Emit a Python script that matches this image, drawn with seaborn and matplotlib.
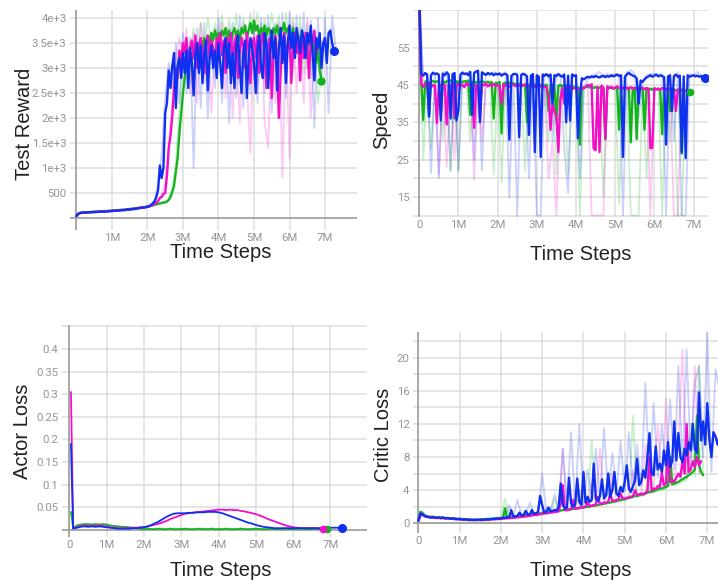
import numpy as np
import matplotlib
matplotlib.use("Agg")
import matplotlib.pyplot as plt
import seaborn as sns

# ---------------- data ----------------
# colours of the three runs
run_colors = {"green": "#14b41e", "pink": "#f20fc8", "blue": "#1030f0"}

# Test Reward, smoothed, 0.05M steps
reward_blue = [40, 85, 100, 105, 110, 105, 115, 112, 118, 115,
               120, 118, 125, 122, 128, 130, 126, 135, 132, 140,
               138, 145, 142, 150, 148, 155, 160, 155, 165, 170,
               168, 175, 180, 178, 190, 195, 200, 210, 205, 215,
               225, 235, 260, 290, 330, 420, 560, 1050, 800, 1000,
               2100, 2300, 2950, 2600, 3050, 3300, 2200, 3050, 3200, 2800,
               3300, 2900, 3350, 2600, 3400, 3100, 2450, 3300, 3500, 2900,
               3450, 2700, 3300, 3550, 2550, 3200, 3450, 3000, 3350, 2800,
               3500, 3100, 2600, 3400, 3600, 3000, 3500, 2700, 3300, 2600,
               3450, 3650, 3000, 2500, 3300, 3550, 2400, 3200, 3600, 3400,
               3100, 2500, 3400, 3650, 3000, 2800, 3700, 3500, 2600, 3300,
               3750, 3200, 3600, 2550, 3400, 3800, 3100, 3650, 2700, 3500,
               3850, 3400, 3700, 3200, 3800, 3550, 3300, 3750, 3600, 3200,
               3700, 3500, 3850, 3300, 2750, 3600, 3400, 3700, 3000, 3500,
               3600, 3100, 3700, 3750, 3500, 3350]
reward_pink = [35, 80, 95, 110, 105, 112, 108, 118, 115, 120,
               118, 125, 122, 128, 126, 132, 130, 138, 135, 142,
               140, 148, 145, 152, 150, 158, 162, 158, 168, 172,
               170, 178, 182, 185, 192, 198, 205, 210, 215, 220,
               225, 230, 245, 260, 280, 300, 340, 400, 420, 480,
               500, 850, 1400, 1650, 2050, 2600, 3000, 2800, 3350, 3100,
               3500, 3300, 3600, 2950, 3400, 3550, 3200, 3650, 3000, 3450,
               3600, 3350, 2900, 3500, 3650, 3200, 3550, 3400, 3050, 3600,
               3450, 3700, 3250, 3550, 2900, 3600, 3400, 3700, 3100, 3500,
               3650, 2800, 3300, 3600, 3450, 3000, 3700, 3350, 2700, 3500,
               3600, 3200, 3650, 2900, 3500, 3700, 3300, 2600, 3450, 3600,
               2400, 3300, 3650, 3100, 2000, 2900, 3500, 3700, 3200, 3450,
               3650, 2700, 3400, 3700, 3300, 3600, 2750, 3550, 3200, 3700,
               3450, 2800, 3600, 3500, 3750, 3300, 3450]
reward_green = [45, 85, 100, 102, 108, 112, 110, 116, 120, 118,
                124, 122, 128, 130, 127, 134, 138, 136, 142, 145,
                143, 150, 148, 155, 158, 162, 160, 168, 172, 175,
                178, 182, 188, 192, 196, 200, 206, 212, 218, 222,
                225, 235, 245, 250, 265, 270, 280, 290, 300, 310,
                310, 330, 360, 420, 520, 650, 920, 1200, 1700, 2100,
                2500, 2800, 3050, 2900, 3300, 3150, 3400, 3250, 3500, 3350,
                3550, 3400, 3600, 3450, 3650, 3500, 3700, 3550, 3750, 3600,
                3700, 3550, 3750, 3650, 3800, 3600, 3750, 3500, 3700, 3800,
                3650, 3750, 3550, 3800, 3700, 3850, 3600, 3750, 3900, 3700,
                3950, 3750, 3850, 3600, 3800, 3700, 3850, 3650, 3800, 3750,
                3550, 3800, 3700, 3850, 3650, 3800, 3750, 3900, 3700, 3800,
                3750, 3600, 3800, 3500, 3700, 3650, 3400, 3750, 3550, 3200,
                3600, 3450, 3700, 3300, 3550, 3100, 3400, 2950, 2750]
# Test Reward, raw (faded), 0.1M steps
reward_blue_raw = [40, 100, 110, 125, 120, 130, 125, 135, 140, 145,
                   140, 150, 155, 165, 160, 175, 180, 195, 200, 215,
                   230, 280, 350, 650, 1300, 2400, 3100, 2600, 3500, 2300,
                   3700, 2500, 3600, 1000, 3800, 2200, 3900, 2000, 3700, 2600,
                   4000, 2300, 3800, 1900, 3900, 2400, 4050, 2200, 3700, 2500,
                   3900, 2300, 4000, 2500, 4050, 2100, 3900, 2700, 4100, 2400,
                   4100, 2900, 4050, 2800, 4100, 3000, 3950, 1800, 4000, 2700,
                   4000, 2100, 4050, 3400]
reward_pink_raw = [35, 95, 110, 120, 118, 128, 126, 135, 140, 142,
                   142, 150, 158, 160, 168, 172, 182, 190, 205, 215,
                   228, 250, 300, 350, 450, 700, 1500, 2300, 3200, 3600,
                   3200, 3800, 2500, 3700, 2300, 3900, 2700, 3600, 2100, 3800,
                   3500, 3900, 2400, 3800, 2000, 3700, 1900, 3900, 2600, 1300,
                   3800, 2500, 3900, 1900, 1400, 3800, 2300, 3900, 800, 3700,
                   1200, 3900, 2500, 3800, 2300, 4000, 2000, 3700, 3300]
reward_green_raw = [45, 100, 110, 118, 122, 130, 135, 140, 145, 148,
                    145, 155, 160, 165, 172, 178, 190, 200, 210, 220,
                    230, 250, 270, 290, 310, 330, 380, 600, 1100, 2200,
                    3000, 3500, 3200, 3800, 3300, 3900, 3400, 4000, 3500, 3900,
                    3600, 4050, 3300, 4000, 3500, 4100, 3400, 4000, 3600, 4100,
                    3700, 4100, 3400, 4000, 3500, 4100, 3600, 4050, 3300, 4100,
                    3500, 4000, 3200, 4050, 2900, 3900, 2800, 3700, 2300, 2900]

# Speed, smoothed, 0.05M steps
speed_blue = [70, 48, 47.5, 48.2, 47.8, 36.5, 47.6, 48.3, 47.9, 48.1,
              47.7, 35.5, 48.0, 47.6, 48.4, 47.8, 36.0, 47.9, 48.2, 35.5,
              38.3, 47.8, 48.3, 47.9, 48.1, 47.6, 48.5, 37.0, 48.2, 48.6,
              48.8, 35.0, 48.4, 48.0, 47.7, 48.2, 47.9, 48.1, 47.6, 48.0,
              47.8, 48.1, 47.5, 47.9, 48.0, 47.6, 30.3, 47.4, 47.9, 48.0,
              47.7, 31.0, 47.6, 48.0, 47.8, 47.3, 31.6, 47.5, 47.9, 27.0,
              47.6, 47.2, 25.7, 47.8, 47.5, 47.9, 47.3, 47.8, 40.0, 47.6,
              47.4, 47.9, 47.5, 47.2, 47.8, 35.0, 47.5, 35.5, 47.8, 47.4,
              47.6, 30.7, 42.0, 46.8, 46.5, 46.9, 47.2, 47.0, 47.3, 47.1,
              47.4, 47.2, 47.0, 47.3, 47.5, 47.1, 47.4, 47.2, 47.6, 47.3,
              47.5, 47.8, 47.4, 47.6, 25.7, 47.2, 47.9, 48.2, 47.8, 47.5,
              47.3, 46.8, 40.0, 46.2, 45.8, 46.5, 47.0, 47.3, 47.6, 47.2,
              47.5, 47.8, 47.3, 47.6, 47.4, 47.1, 29.0, 47.3, 47.6, 38.0,
              47.4, 47.8, 47.2, 47.5, 27.0, 47.3, 25.4, 47.6, 47.2, 47.4,
              47.6, 47.3, 47.5, 47.2, 47.4, 47.1, 47.0]
speed_pink = [66, 45.5, 44.5, 45.2, 44.8, 45.6, 44.3, 45.0, 44.7, 34.8,
              45.2, 44.6, 45.3, 44.9, 34.4, 45.1, 44.5, 45.4, 36.5, 44.8,
              45.3, 44.7, 45.1, 44.4, 45.5, 44.9, 45.2, 44.6, 33.5, 45.0,
              44.7, 36.0, 45.2, 44.9, 45.4, 44.6, 45.1, 44.8, 45.3, 44.7,
              45.0, 44.6, 40.0, 45.2, 44.8, 45.3, 44.5, 44.9, 45.1, 44.7,
              44.8, 45.0, 44.6, 44.9, 45.1, 44.5, 44.8, 44.6, 44.9, 44.4,
              44.7, 44.5, 44.8, 44.3, 44.6, 44.4, 42.0, 33.0, 40.0, 38.0,
              36.5, 27.0, 41.0, 44.2, 40.0, 44.5, 44.1, 44.4, 43.9, 44.2,
              44.0, 43.8, 44.1, 43.9, 44.2, 44.5, 45.0, 44.8, 45.2, 28.0,
              27.5, 44.5, 27.0, 44.8, 44.3, 30.6, 44.6, 44.2, 44.5, 44.0,
              44.3, 44.6, 44.1, 44.4, 44.0, 44.5, 44.2, 43.8, 44.4, 44.1,
              44.3, 43.9, 44.2, 44.0, 44.3, 43.8, 44.1, 44.0, 28.0, 28.2,
              44.1, 43.8, 44.0, 43.7, 44.2, 43.9, 44.1, 43.6, 44.0, 43.8,
              43.9, 38.0, 43.7, 44.0, 43.6, 43.8, 43.4, 43.3]
speed_green = [68, 46.0, 35.6, 45.8, 46.2, 36.6, 45.9, 46.1, 45.7, 46.0,
               45.8, 37.0, 46.1, 45.6, 46.0, 45.9, 46.2, 45.7, 36.0, 46.0,
               45.8, 46.1, 45.7, 46.0, 45.9, 46.2, 37.0, 45.8, 46.0, 45.6,
               45.9, 45.7, 46.0, 45.8, 45.6, 45.9, 45.5, 45.8, 36.0, 45.6,
               45.5, 45.8, 32.0, 45.4, 45.7, 45.3, 45.6, 45.2, 45.5, 45.1,
               45.4, 45.0, 45.3, 44.9, 45.2, 35.0, 45.0, 45.3, 44.8, 45.1,
               44.9, 45.2, 44.8, 45.0, 44.7, 45.1, 38.0, 44.9, 45.0, 44.6,
               35.5, 44.8, 45.0, 44.7, 44.9, 44.6, 44.8, 44.5, 44.7, 44.4,
               44.6, 44.3, 29.0, 44.5, 44.2, 44.4, 44.6, 44.3, 44.5, 44.2,
               44.4, 44.1, 44.3, 44.5, 44.2, 30.5, 44.4, 44.1, 44.3, 44.0,
               44.2, 44.5, 33.0, 44.3, 44.0, 44.4, 44.1, 44.3, 29.6, 44.2,
               44.0, 30.5, 44.3, 43.9, 44.1, 33.0, 44.2, 43.8, 44.0, 43.7,
               44.1, 43.8, 44.0, 43.6, 31.8, 43.9, 43.7, 44.0, 38.0, 43.6,
               43.8, 43.5, 43.7, 43.4, 26.6, 43.6, 43.3, 43.5, 43.2]
# Speed, raw (faded), 0.1M steps
speed_blue_raw = [70, 48, 47.5, 21.4, 48, 20, 48.5, 47.8, 22, 48,
                  22, 48.5, 48, 48.8, 25, 49, 22, 48, 47.5, 48.5,
                  48, 47.5, 48.5, 14.7, 48, 9.8, 48, 47.5, 20, 48,
                  10, 10, 48, 47.5, 30, 48, 47.8, 28, 16, 48,
                  47.5, 20, 44, 46.5, 47.5, 47.8, 48.5, 47, 48, 47.5,
                  48, 47.5, 10, 48.5, 49, 48, 36, 46, 47.5, 48,
                  48, 47.5, 48, 10, 47.8, 30, 48.5, 10, 10, 48,
                  47.5, 48.5, 47.5, 47]
speed_pink_raw = [66, 45.5, 44.5, 45, 44.8, 21, 45, 23, 45.2, 25,
                  45, 44.6, 45.3, 44.8, 19.6, 45, 30, 45.2, 44.6, 45,
                  44.8, 35, 45.1, 44.6, 45, 44.7, 45, 44.5, 44.8, 44.5,
                  44.7, 44.4, 44.6, 20, 30, 10, 40, 44.2, 44.5, 44.1,
                  44, 43.8, 44.2, 45, 10, 10, 10, 10, 44.6, 44.2,
                  44.4, 44.1, 44.5, 44, 44.3, 44.2, 43.9, 44.2, 44, 10,
                  44, 43.8, 44.1, 43.7, 44, 10, 10, 43.6, 43.4]
speed_green_raw = [68, 24.9, 46, 28, 46, 45.8, 30, 46, 22, 45.8,
                   22, 46, 45.8, 30, 46, 45.8, 46, 45.6, 45.9, 21,
                   45.6, 19, 45.5, 45.3, 45.5, 45.2, 45.4, 22, 45, 45.2,
                   45, 44.8, 45, 30, 44.8, 21, 44.9, 44.6, 21, 44.5,
                   44.6, 10, 44.4, 44.5, 44.3, 44.5, 44.2, 15, 44.3, 44.1,
                   44.3, 13, 44.4, 44.1, 10, 10, 10, 44, 20, 43.9,
                   44, 43.8, 10, 43.9, 30, 43.7, 10, 10, 43.5, 43.2]

# Actor Loss, 0.1M steps (first value is the initial spike)
actor_blue = [0.19, 0.003, 0.005, 0.007, 0.008, 0.007, 0.008, 0.007, 0.008, 0.007,
              0.006, 0.005, 0.004, 0.003, 0.003, 0.003, 0.003, 0.004, 0.004, 0.005,
              0.006, 0.008, 0.011, 0.015, 0.019, 0.024, 0.029, 0.033, 0.036, 0.037,
              0.037, 0.037, 0.038, 0.038, 0.039, 0.039, 0.039, 0.040, 0.040, 0.040,
              0.039, 0.037, 0.034, 0.031, 0.028, 0.025, 0.022, 0.019, 0.016, 0.014,
              0.011, 0.009, 0.007, 0.006, 0.005, 0.004, 0.004, 0.004, 0.004, 0.004,
              0.004, 0.004, 0.004, 0.004, 0.004, 0.004, 0.004, 0.004, 0.004, 0.004,
              0.005, 0.005, 0.005, 0.005]
actor_pink = [0.305, 0.004, 0.006, 0.009, 0.010, 0.009, 0.010, 0.009, 0.010, 0.009,
              0.008, 0.006, 0.005, 0.004, 0.004, 0.004, 0.004, 0.005, 0.005, 0.006,
              0.006, 0.008, 0.010, 0.012, 0.014, 0.017, 0.020, 0.024, 0.027, 0.030,
              0.033, 0.036, 0.037, 0.038, 0.039, 0.040, 0.041, 0.042, 0.043, 0.044,
              0.045, 0.045, 0.044, 0.045, 0.044, 0.044, 0.042, 0.041, 0.039, 0.037,
              0.035, 0.032, 0.029, 0.025, 0.022, 0.019, 0.016, 0.013, 0.010, 0.008,
              0.006, 0.005, 0.004, 0.004, 0.004, 0.004, 0.004, 0.003, 0.003]
actor_green = [0.04, 0.004, 0.010, 0.012, 0.013, 0.013, 0.012, 0.013, 0.012, 0.013,
               0.012, 0.010, 0.009, 0.008, 0.007, 0.007, 0.006, 0.005, 0.004, 0.003,
               0.002, 0.003, 0.002, 0.002, 0.003, 0.002, 0.002, 0.003, 0.002, 0.002,
               0.002, 0.003, 0.002, 0.002, 0.002, 0.003, 0.002, 0.002, 0.003, 0.002,
               0.002, 0.002, 0.003, 0.002, 0.002, 0.002, 0.003, 0.002, 0.002, 0.002,
               0.003, 0.002, 0.002, 0.002, 0.003, 0.002, 0.002, 0.002, 0.003, 0.002,
               0.002, 0.002, 0.003, 0.002, 0.002, 0.002, 0.003, 0.002, 0.002, 0.002]

# Critic Loss, smoothed, 0.05M steps
critic_blue = [0.3, 1.2, 1.1, 0.9, 0.8, 0.75, 0.7, 0.75, 0.7, 0.65,
               0.7, 0.65, 0.7, 0.6, 0.65, 0.6, 0.55, 0.6, 0.55, 0.5,
               0.55, 0.5, 0.45, 0.5, 0.45, 0.4, 0.45, 0.4, 0.4, 0.45,
               0.4, 0.45, 0.4, 0.5, 0.45, 0.5, 0.55, 0.5, 0.6, 0.55,
               0.6, 0.7, 0.65, 0.75, 0.7, 1.6, 0.8, 0.85, 0.9, 1.3,
               0.95, 1.0, 1.5, 1.05, 1.1, 1.6, 1.15, 1.2, 1.4, 3.3,
               2.2, 1.3, 1.4, 1.9, 1.45, 1.5, 1.6, 1.55, 2.0, 4.8,
               2.2, 1.8, 1.9, 5.5, 2.4, 2.0, 2.3, 5.4, 2.6, 2.2,
               6.2, 2.5, 3.2, 2.6, 2.8, 7.2, 3.0, 2.7, 3.3, 5.3,
               3.0, 3.4, 6.0, 3.2, 4.0, 6.2, 3.6, 3.3, 4.4, 3.8,
               5.0, 7.0, 4.2, 3.8, 4.5, 5.2, 7.8, 4.6, 5.0, 6.4,
               5.5, 8.0, 10.9, 6.0, 5.8, 9.3, 6.5, 7.2, 6.2, 8.8,
               7.0, 9.8, 6.8, 7.5, 12.3, 7.6, 10.9, 8.0, 7.4, 9.0,
               8.2, 9.8, 8.8, 12.0, 9.0, 8.5, 15.8, 10.0, 12.3, 9.5,
               14.5, 10.2, 8.0, 11.0, 10.5, 9.5, 10.5]
critic_pink = [0.3, 1.0, 1.05, 0.85, 0.8, 0.75, 0.7, 0.7, 0.65, 0.65,
               0.65, 0.6, 0.65, 0.6, 0.6, 0.55, 0.55, 0.55, 0.5, 0.5,
               0.5, 0.45, 0.45, 0.45, 0.4, 0.4, 0.4, 0.4, 0.4, 0.4,
               0.4, 0.4, 0.42, 0.44, 0.45, 0.46, 0.48, 0.5, 0.5, 0.52,
               0.55, 0.55, 0.6, 0.6, 0.62, 0.65, 0.68, 0.7, 0.72, 0.75,
               0.78, 0.8, 0.85, 0.88, 0.9, 0.95, 1.0, 1.0, 1.05, 1.1,
               1.15, 1.2, 1.2, 1.25, 1.3, 1.35, 1.35, 1.4, 1.45, 2.5,
               4.6, 1.6, 1.6, 1.65, 1.7, 2.8, 1.75, 1.8, 1.85, 1.9,
               1.95, 2.0, 2.6, 2.1, 2.15, 2.2, 2.25, 3.2, 2.35, 2.4,
               2.5, 2.5, 2.6, 3.5, 2.7, 2.75, 2.8, 2.9, 3.6, 3.0,
               3.0, 3.1, 3.1, 3.2, 3.3, 4.0, 3.4, 3.5, 3.6, 3.5,
               3.7, 3.8, 8.0, 4.0, 4.2, 4.1, 4.5, 4.4, 6.0, 4.6,
               4.8, 9.0, 5.0, 5.2, 5.0, 5.5, 6.0, 5.6, 7.5, 6.0,
               12.0, 6.2, 6.5, 7.5, 6.8, 8.0, 7.0, 7.5]
critic_green = [0.4, 1.4, 1.2, 0.9, 0.85, 0.8, 0.75, 0.8, 0.7, 0.7,
                0.7, 0.65, 0.7, 0.6, 0.6, 0.6, 0.55, 0.55, 0.5, 0.55,
                0.5, 0.5, 0.45, 0.45, 0.4, 0.45, 0.4, 0.4, 0.45, 0.4,
                0.45, 0.45, 0.5, 0.5, 0.55, 0.5, 0.55, 0.6, 0.6, 0.65,
                0.6, 0.65, 1.8, 0.7, 0.7, 0.75, 0.8, 0.8, 0.85, 0.9,
                0.9, 0.95, 1.0, 1.0, 1.05, 1.1, 1.1, 1.15, 1.2, 1.2,
                1.25, 1.3, 1.3, 1.35, 1.4, 1.4, 1.45, 1.5, 1.5, 1.55,
                1.6, 1.6, 1.65, 1.7, 1.7, 1.75, 1.8, 1.8, 1.85, 1.9,
                1.9, 1.95, 2.0, 2.0, 2.1, 2.1, 2.2, 2.2, 2.3, 2.3,
                2.4, 2.4, 2.5, 2.5, 2.6, 2.6, 2.7, 2.8, 2.8, 2.9,
                2.9, 3.0, 3.1, 3.1, 3.2, 3.3, 3.3, 3.4, 3.5, 3.5,
                3.6, 3.7, 3.8, 3.8, 3.9, 4.0, 4.1, 4.2, 4.2, 4.3,
                4.4, 4.5, 8.0, 4.7, 4.8, 4.9, 5.0, 5.2, 5.3, 5.5,
                5.6, 5.8, 6.0, 6.2, 6.5, 13.0, 7.0, 6.2, 5.8]
# Critic Loss, raw (faded), 0.1M steps
critic_blue_raw = [0.3, 1.3, 0.9, 0.8, 0.75, 0.7, 0.7, 0.6, 0.6, 0.55,
                   0.5, 0.5, 0.45, 0.4, 0.4, 0.45, 0.45, 0.5, 0.55, 0.6,
                   0.6, 0.7, 2.2, 0.8, 2.8, 1.0, 1.0, 2.5, 1.2, 1.3,
                   6.0, 1.4, 1.5, 3.5, 1.6, 9.0, 1.9, 11.0, 2.0, 12.0,
                   2.3, 6.5, 3.0, 9.0, 2.8, 11.5, 3.2, 8.5, 3.5, 10.0,
                   3.8, 11.0, 4.0, 9.5, 4.5, 17.0, 5.0, 14.5, 5.5, 12.0,
                   6.0, 15.0, 6.5, 19.0, 6.8, 21.0, 7.0, 17.0, 19.0, 8.0,
                   23.0, 6.2, 18.6, 16.0]
critic_pink_raw = [0.3, 1.1, 0.85, 0.75, 0.7, 0.65, 0.6, 0.55, 0.5, 0.5,
                   0.45, 0.45, 0.4, 0.4, 0.4, 0.4, 0.45, 0.5, 0.5, 0.55,
                   0.6, 0.6, 0.65, 0.7, 0.75, 0.8, 0.85, 0.9, 1.0, 1.05,
                   1.1, 1.2, 1.25, 1.3, 1.4, 9.0, 1.5, 1.6, 4.0, 1.8,
                   1.9, 2.0, 5.0, 2.1, 9.0, 2.3, 2.5, 6.0, 2.6, 2.8,
                   2.9, 3.0, 6.5, 3.2, 3.4, 9.5, 3.6, 3.8, 12.0, 4.2,
                   15.0, 4.5, 4.8, 10.0, 21.0, 5.5, 8.0, 19.0, 6.0]
critic_green_raw = [0.4, 1.5, 0.9, 0.8, 0.75, 0.7, 0.65, 0.6, 0.55, 0.55,
                    0.5, 0.45, 0.45, 0.4, 0.45, 0.45, 0.5, 0.55, 0.6, 0.6,
                    0.65, 3.0, 0.75, 0.8, 0.85, 0.9, 1.0, 1.05, 1.1, 1.2,
                    1.25, 1.3, 1.4, 3.0, 1.5, 1.6, 1.65, 1.7, 1.8, 4.0,
                    1.9, 2.0, 10.0, 2.1, 2.2, 2.3, 6.0, 2.5, 2.6, 2.7,
                    2.8, 3.0, 13.0, 3.2, 3.3, 3.5, 9.0, 3.7, 3.9, 4.0,
                    4.2, 8.0, 4.5, 4.8, 5.0, 5.2, 12.0, 5.6, 19.0, 6.0]

# tick labels
step_labels = ["0", "1M", "2M", "3M", "4M", "5M", "6M", "7M"]
reward_ticks = [500, 1000, 1500, 2000, 2500, 3000, 3500, 4000]
reward_labels = ["500", "1e+3", "1.5e+3", "2e+3", "2.5e+3", "3e+3", "3.5e+3", "4e+3"]
speed_labels = ["15", "25", "35", "45", "55"]
actor_labels = ["0.05", "0.1", "0.15", "0.2", "0.25", "0.3", "0.35", "0.4"]
critic_labels = ["0", "4", "8", "12", "16", "20"]

# ---------------- figure ----------------
sns.set_theme(style="white")
plt.rcParams['font.family'] = ['Roboto', 'DejaVu Sans']

W, H = 718, 583
fig = plt.figure(figsize=(W / 100, H / 100), dpi=100)

GRID = "#dedede"
ZERO = "#a3a3a3"
TICK = "#959595"


def make_axes(x0, y0, x1, y1):
    ax = fig.add_axes([x0 / W, 1 - y1 / H, (x1 - x0) / W, (y1 - y0) / H])
    for s in ax.spines.values():
        s.set_visible(False)
    ax.set_facecolor("white")
    ax.grid(True, color=GRID, lw=1.1)
    ax.set_axisbelow(True)
    ax.tick_params(length=0, labelsize=8.2, labelcolor=TICK, pad=2.5)
    return ax


def grid_t(vals, dt):
    return np.arange(len(vals)) * dt


def line(ax, t, v, color, lw, alpha=1.0, z=2):
    sns.lineplot(x=t, y=v, ax=ax, color=color, lw=lw, alpha=alpha,
                 estimator=None, errorbar=None, sort=False, zorder=z)


def xsteps(ax, with_zero=True):
    ax.set_xticks(range(8))
    labs = list(step_labels)
    if not with_zero:
        labs[0] = ""
    ax.set_xticklabels(labs)


label_font = dict(family=["Liberation Sans", "DejaVu Sans"], size=14.5, color="#222222")

# ---- Test Reward ----
ax1 = make_axes(70, 10, 357, 230)
for name, raw in (("green", reward_green_raw), ("pink", reward_pink_raw), ("blue", reward_blue_raw)):
    line(ax1, grid_t(raw, 0.1), raw, run_colors[name], 1.3, alpha=0.22, z=2)
for name, vals in (("green", reward_green), ("pink", reward_pink), ("blue", reward_blue)):
    line(ax1, grid_t(vals, 0.05), vals, run_colors[name], 1.7, z=3)
ax1.plot(grid_t(reward_green, 0.05)[-1], reward_green[-1], "o", color=run_colors["green"], ms=5, zorder=4)
ax1.plot(grid_t(reward_blue, 0.05)[-1], reward_blue[-1], "o", color=run_colors["blue"], ms=5.5, zorder=4)
ax1.axhline(0, color=ZERO, lw=1.3, zorder=1.5)
ax1.axvline(0, color=ZERO, lw=1.3, zorder=1.5)
ax1.set_xlim(-0.18, 7.9)
ax1.set_ylim(-240, 4160)
xsteps(ax1, with_zero=False)
ax1.set_yticks(reward_ticks)
ax1.set_yticklabels(reward_labels)
ax1.set_xlabel("")
ax1.set_ylabel("")

# ---- Speed ----
ax2 = make_axes(413, 10, 708, 217)
for name, raw in (("green", speed_green_raw), ("pink", speed_pink_raw), ("blue", speed_blue_raw)):
    line(ax2, grid_t(raw, 0.1), raw, run_colors[name], 1.3, alpha=0.22, z=2)
for name, vals in (("green", speed_green), ("pink", speed_pink), ("blue", speed_blue)):
    line(ax2, grid_t(vals, 0.05), vals, run_colors[name], 1.7, z=3)
ax2.plot(grid_t(speed_green, 0.05)[-1], speed_green[-1], "o", color=run_colors["green"], ms=4.5, zorder=4)
ax2.plot(grid_t(speed_blue, 0.05)[-1], speed_blue[-1], "o", color=run_colors["blue"], ms=5.5, zorder=4)
ax2.axvline(0, color=ZERO, lw=1.3, zorder=1.5)
ax2.set_xlim(-0.16, 7.37)
ax2.set_ylim(9.6, 65.1)
xsteps(ax2)
speed_grid = list(range(10, 66, 5))
ax2.set_yticks(speed_grid)
ax2.set_yticklabels([str(v) if str(v) in speed_labels else "" for v in speed_grid])
ax2.set_xlabel("")
ax2.set_ylabel("")

# ---- Actor Loss ----
ax3 = make_axes(62, 325, 367, 537)
for name, vals in (("green", actor_green), ("pink", actor_pink), ("blue", actor_blue)):
    t = np.r_[0.04, np.arange(1, len(vals)) * 0.1]
    line(ax3, t, vals, run_colors[name], 1.3, z=3)
    ms = 5.5 if name == "blue" else 4.5
    ax3.plot(t[-1], vals[-1], "o", color=run_colors[name], ms=ms, zorder=4)
ax3.axhline(0, color=ZERO, lw=1.3, zorder=1.5)
ax3.axvline(0, color=ZERO, lw=1.3, zorder=1.5)
ax3.set_xlim(-0.2, 7.98)
ax3.set_ylim(-0.0155, 0.453)
xsteps(ax3)
ax3.set_yticks(np.arange(1, 10) * 0.05)
ax3.set_yticklabels(actor_labels + [""])
ax3.set_xlabel("")
ax3.set_ylabel("")

# ---- Critic Loss ----
ax4 = make_axes(413, 332, 718, 533)
for name, raw in (("green", critic_green_raw), ("pink", critic_pink_raw), ("blue", critic_blue_raw)):
    line(ax4, grid_t(raw, 0.1), raw, run_colors[name], 1.3, alpha=0.22, z=2)
for name, vals in (("green", critic_green), ("pink", critic_pink), ("blue", critic_blue)):
    line(ax4, grid_t(vals, 0.05), vals, run_colors[name], 1.7, z=3)
ax4.axhline(0, color=ZERO, lw=1.3, zorder=1.5)
ax4.axvline(0, color=ZERO, lw=1.3, zorder=1.5)
ax4.set_xlim(-0.13, 7.26)
ax4.set_ylim(-1.17, 23.1)
xsteps(ax4)
ax4.set_yticks(np.arange(0, 23, 2))
ax4.set_yticklabels([critic_labels[i // 2] if i % 2 == 0 else "" for i in range(12)])
ax4.set_xlabel("")
ax4.set_ylabel("")

# axis titles
fig.text(25 / W, 1 - 124 / H, "Test Reward", rotation=90, ha="center", va="center", **label_font)
fig.text(221 / W, 1 - 253 / H, "Time Steps", ha="center", va="center", **label_font)
fig.text(382 / W, 1 - 120 / H, "Speed", rotation=90, ha="center", va="center", **label_font)
fig.text(581 / W, 1 - 254 / H, "Time Steps", ha="center", va="center", **label_font)
fig.text(23 / W, 1 - 431 / H, "Actor Loss", rotation=90, ha="center", va="center", **label_font)
fig.text(221 / W, 1 - 570 / H, "Time Steps", ha="center", va="center", **label_font)
fig.text(383 / W, 1 - 435 / H, "Critic Loss", rotation=90, ha="center", va="center", **label_font)
fig.text(581 / W, 1 - 570 / H, "Time Steps", ha="center", va="center", **label_font)

fig.savefig("out.png", dpi=100)
